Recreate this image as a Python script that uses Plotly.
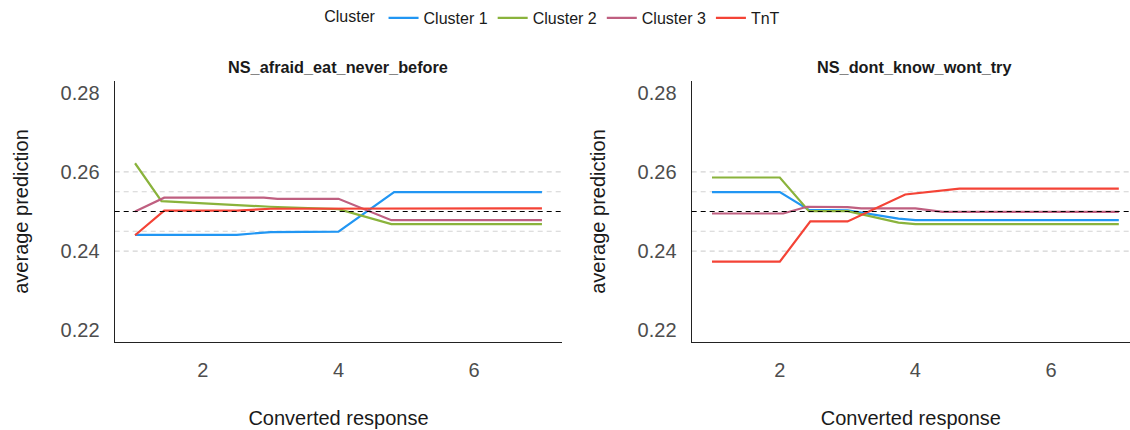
import plotly.graph_objects as go

# ---------------- data ----------------
series_names = ["Cluster 1", "Cluster 2", "Cluster 3", "TnT"]
series_colors = ["#2196F3", "#8AB33C", "#BF5F80", "#F44336"]
panel_titles = ["NS_afraid_eat_never_before", "NS_dont_know_wont_try"]

# Panel 1: NS_afraid_eat_never_before
afraid_c1_x = [1, 2.5, 3.0, 4.0, 4.82, 7]
afraid_c1_y = [0.2441, 0.2441, 0.2448, 0.2449, 0.2549, 0.2549]
afraid_c2_x = [1, 1.39, 2.99, 4.0, 4.78, 7]
afraid_c2_y = [0.2622, 0.2526, 0.2512, 0.2506, 0.2468, 0.2468]
afraid_c3_x = [1, 1.43, 2.9, 3.1, 4.0, 4.78, 7]
afraid_c3_y = [0.2500, 0.2535, 0.2535, 0.2532, 0.2532, 0.2478, 0.2478]
afraid_tnt_x = [1, 1.43, 2.5, 3.0, 7]
afraid_tnt_y = [0.2440, 0.2502, 0.2502, 0.2507, 0.2508]

# Panel 2: NS_dont_know_wont_try
dontknow_c1_x = [1, 2.0, 2.43, 3.0, 3.75, 4.0, 7]
dontknow_c1_y = [0.2549, 0.2549, 0.2504, 0.2503, 0.2482, 0.2478, 0.2478]
dontknow_c2_x = [1, 2.0, 2.43, 3.0, 3.75, 4.0, 7]
dontknow_c2_y = [0.2586, 0.2586, 0.2501, 0.2501, 0.2472, 0.2468, 0.2468]
dontknow_c3_x = [1, 2.05, 2.4, 3.0, 3.2, 4.0, 4.4, 7]
dontknow_c3_y = [0.2495, 0.2495, 0.2512, 0.2511, 0.2508, 0.2508, 0.2499, 0.2499]
dontknow_tnt_x = [1, 2.0, 2.45, 3.0, 3.85, 4.65, 7]
dontknow_tnt_y = [0.2373, 0.2373, 0.2475, 0.2475, 0.2543, 0.2558, 0.2558]

grey_ref_lines = [0.24, 0.245, 0.255, 0.26]
baseline_ref = 0.25

y_ticks = [0.22, 0.24, 0.26, 0.28]
x_ticks = [2, 4, 6]

panel1 = [(afraid_c1_x, afraid_c1_y), (afraid_c2_x, afraid_c2_y),
          (afraid_c3_x, afraid_c3_y), (afraid_tnt_x, afraid_tnt_y)]
panel2 = [(dontknow_c1_x, dontknow_c1_y), (dontknow_c2_x, dontknow_c2_y),
          (dontknow_c3_x, dontknow_c3_y), (dontknow_tnt_x, dontknow_tnt_y)]

# ---------------- figure ----------------
FONT = "Liberation Sans, Arial, sans-serif"
fig = go.Figure()

for p, panel in enumerate([panel1, panel2]):
    xa = "x" if p == 0 else "x2"
    ya = "y" if p == 0 else "y2"
    for i, (xs, ys) in enumerate(panel):
        fig.add_trace(go.Scatter(
            x=xs, y=ys, mode="lines", name=series_names[i],
            line=dict(color=series_colors[i], width=2.2),
            xaxis=xa, yaxis=ya, legendgroup=series_names[i],
            showlegend=(p == 0),
        ))
    xref = xa + " domain"
    for v in grey_ref_lines:
        fig.add_shape(type="line", xref=xref, yref=ya, x0=0, x1=1, y0=v, y1=v,
                      line=dict(color="#D3D3D3", width=1.2, dash="5px,4px"), layer="below")
    fig.add_shape(type="line", xref=xref, yref=ya, x0=0, x1=1, y0=baseline_ref, y1=baseline_ref,
                  line=dict(color="black", width=1.2, dash="5px,4px"), layer="above")
    fig.add_annotation(text="<b>%s</b>" % panel_titles[p], xref=xref, yref="paper",
                       x=0.5 if p == 0 else 0.508, y=1.054, xanchor="center", yanchor="middle",
                       showarrow=False, font=dict(family=FONT, size=16.3, color="#1a1a1a"))

axis_common = dict(showgrid=False, zeroline=False, showline=True, linecolor="#222222",
                   linewidth=1.3, ticks="", tickfont=dict(family=FONT, size=20, color="#4D4D4D"))

fig.update_layout(
    width=1130, height=430,
    margin=dict(l=0, r=0, t=81, b=88, pad=0),
    plot_bgcolor="white", paper_bgcolor="white",
    font=dict(family=FONT, color="#1a1a1a"),
    xaxis=dict(domain=[0.1015, 0.4976], range=[0.7, 7.3], tickvals=x_ticks,
               ticklabelstandoff=10,
               title=dict(text="Converted response", font=dict(family=FONT, size=20, color="#1a1a1a"), standoff=30),
               **axis_common),
    xaxis2=dict(domain=[0.6121, 1.0], range=[0.7, 7.165], tickvals=x_ticks,
                ticklabelstandoff=10,
                title=dict(text="Converted response", font=dict(family=FONT, size=20, color="#1a1a1a"), standoff=30),
                **axis_common),
    yaxis=dict(range=[0.217, 0.283], tickvals=y_ticks, tickformat=".2f", anchor="x",
               ticklabelstandoff=10,
               title=dict(text="average prediction", font=dict(family=FONT, size=20, color="#1a1a1a"), standoff=26),
               **axis_common),
    yaxis2=dict(range=[0.217, 0.283], tickvals=y_ticks, tickformat=".2f", anchor="x2",
                ticklabelstandoff=10,
                title=dict(text="average prediction", font=dict(family=FONT, size=20, color="#1a1a1a"), standoff=26),
                **axis_common),
    legend=dict(orientation="h", x=0.49, xanchor="center", yref="container", y=0.958, yanchor="middle",
                title=dict(text="Cluster", font=dict(family=FONT, size=16, color="#1a1a1a")),
                font=dict(family=FONT, size=16, color="#1a1a1a"), itemwidth=30,
                bgcolor="rgba(0,0,0,0)"),
)

fig.write_html("out.html")
